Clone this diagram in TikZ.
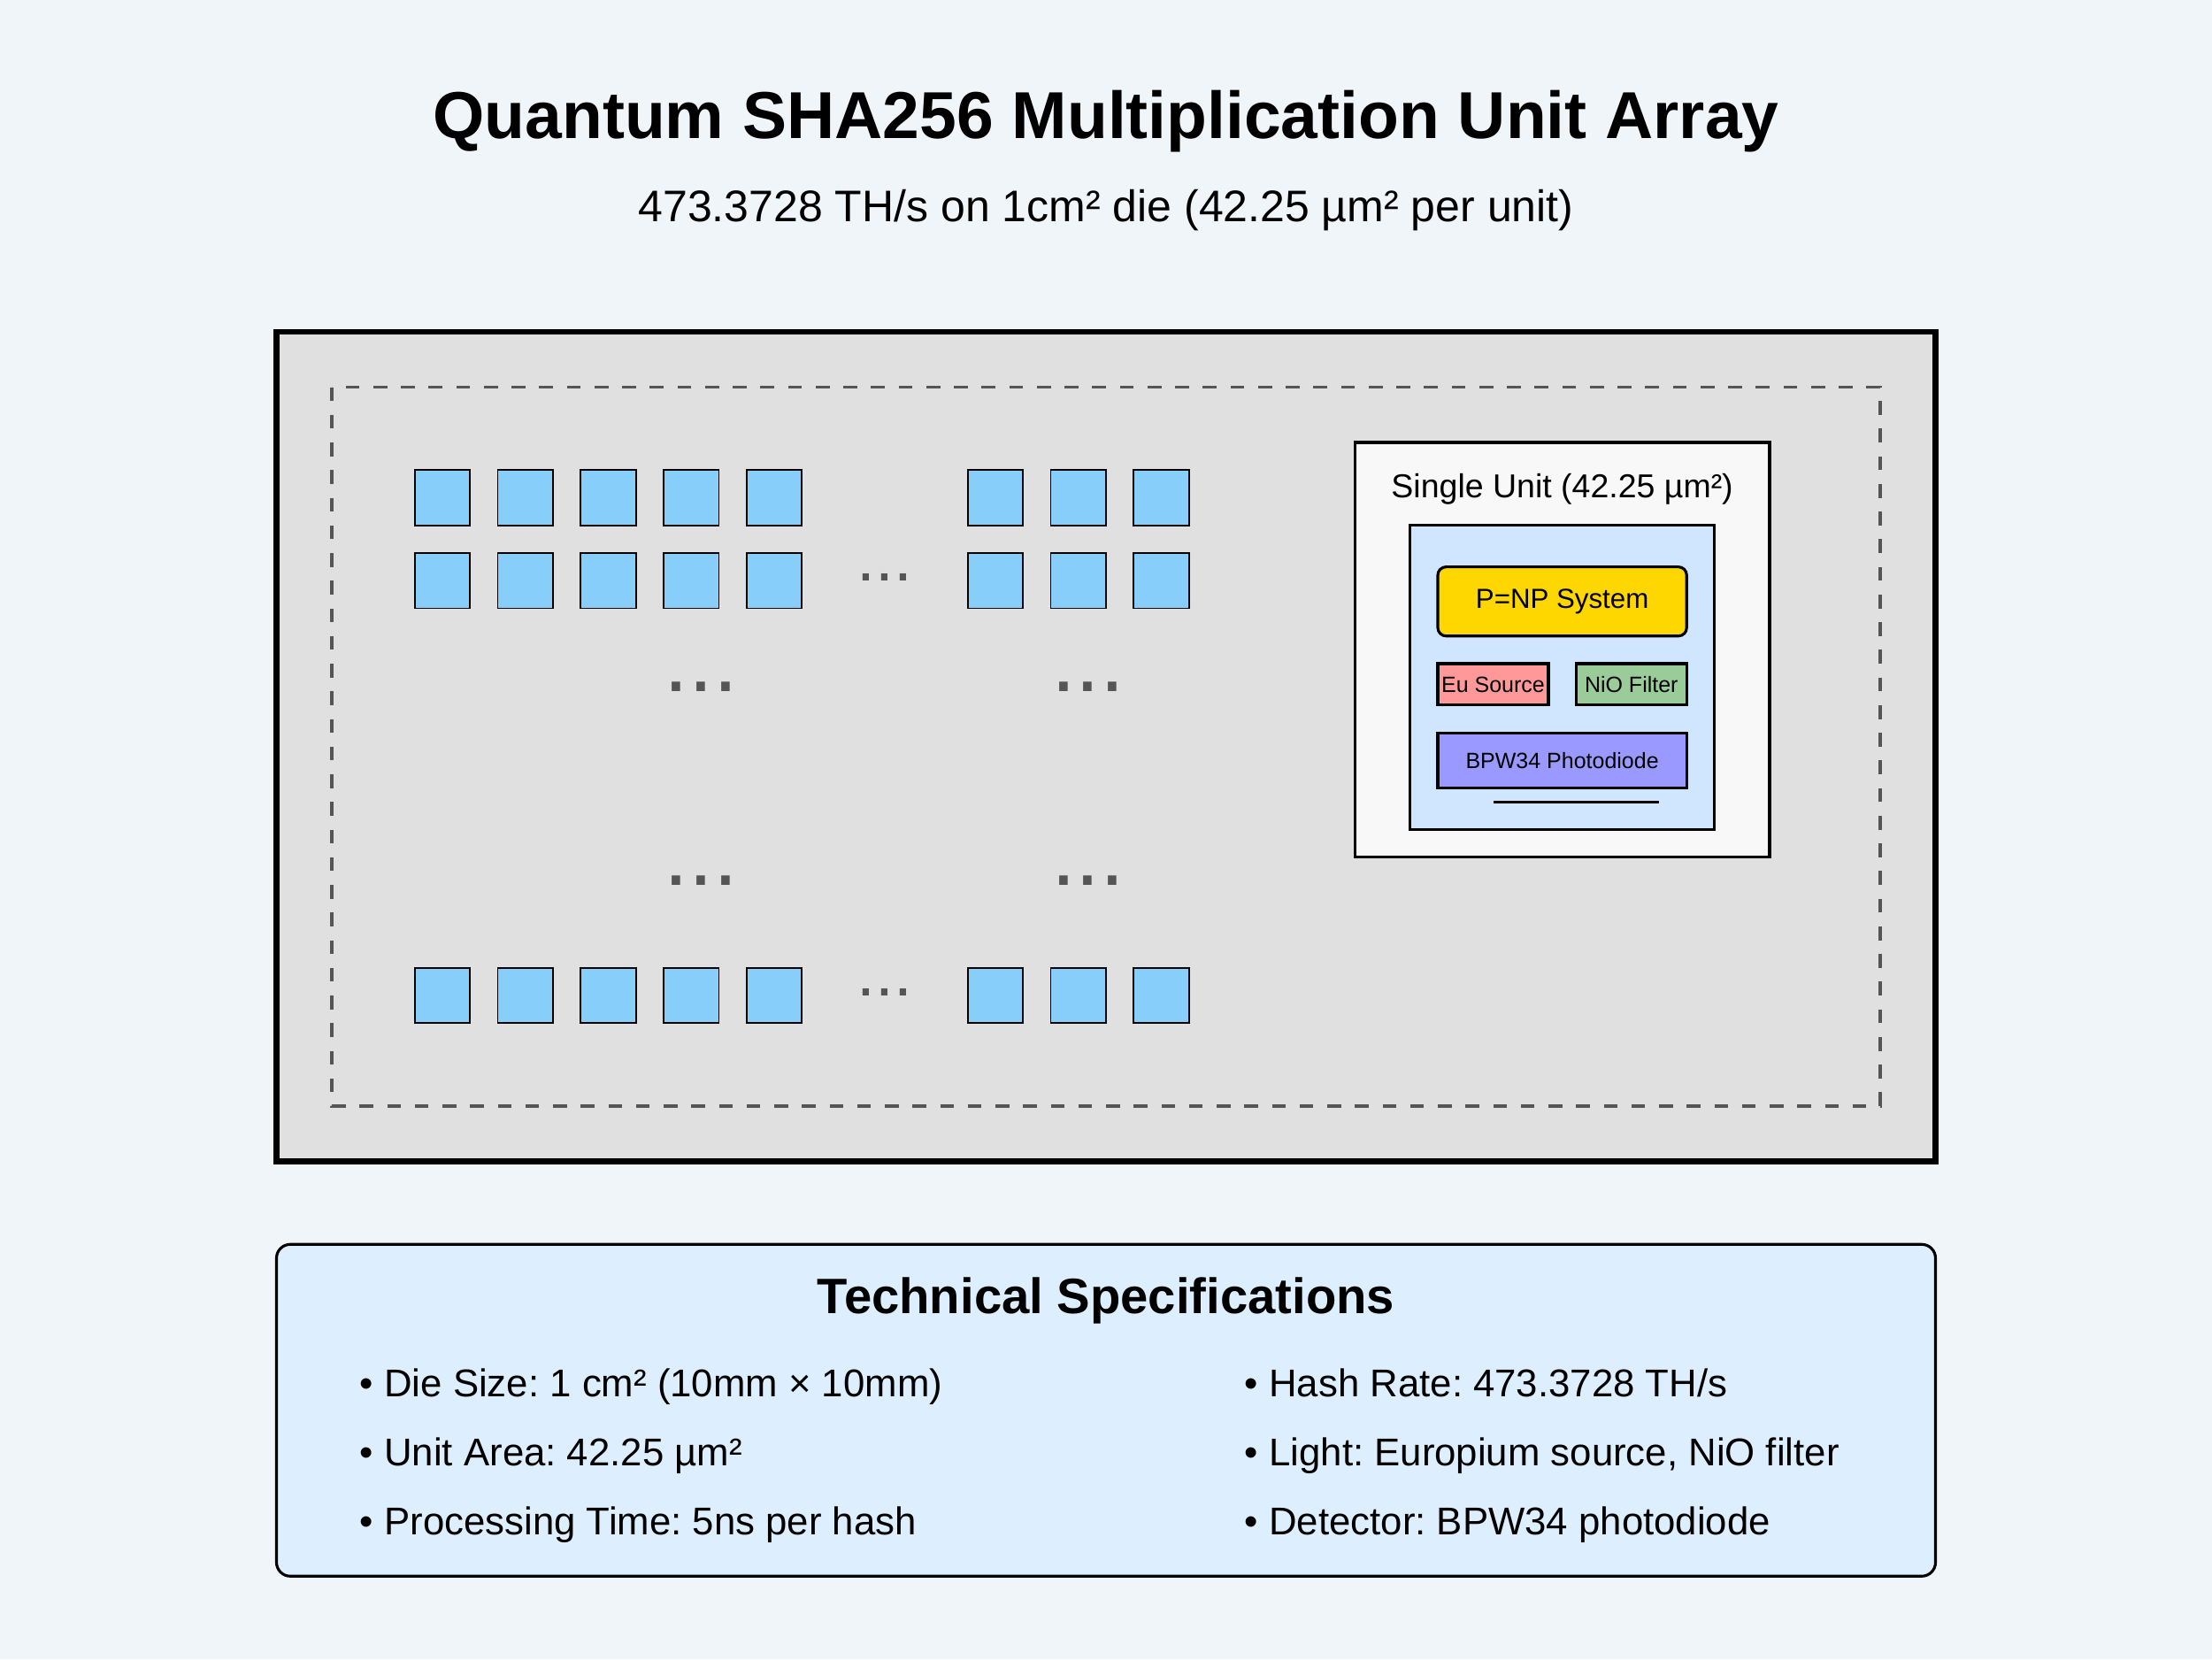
\documentclass[tikz,border=0pt]{standalone}
\usepackage{fontspec}
\setmainfont{Liberation Sans}
\frenchspacing
\definecolor{pagebg}{HTML}{F0F5FA}
\definecolor{diebg}{HTML}{E0E0E0}
\definecolor{cellblue}{HTML}{87CEFA}
\definecolor{unitbg}{HTML}{F8F8F8}
\definecolor{corebg}{HTML}{D0E6FF}
\definecolor{pnpgold}{HTML}{FFD700}
\definecolor{eured}{HTML}{FF9999}
\definecolor{niogreen}{HTML}{99CC99}
\definecolor{pdblue}{HTML}{9999FF}
\definecolor{specbg}{HTML}{DDEEFF}
\definecolor{dotgrey}{HTML}{555555}
\newcommand{\fs}[1]{\fontsize{#1}{#1}\selectfont}
\begin{document}
\begin{tikzpicture}[x=1pt,y=-1pt,
    cell/.style={draw=black,line width=0.5pt,fill=cellblue},
    part/.style={draw=black,line width=1pt,inner sep=0pt},
    rowdots/.style={anchor=base,inner sep=0pt,text=dotgrey,font=\fs{24}},
    coldots/.style={anchor=base,inner sep=0pt,text=dotgrey,font=\fs{32}},
    spec/.style={anchor=base west,inner sep=0pt,font=\fs{14}}]
        %% Page
        \fill[pagebg] (0,0) rectangle (800,600);
        \node[anchor=base,inner sep=0pt,font=\fs{24}\bfseries] (title) at (400,50) {Quantum SHA256 Multiplication Unit Array};
        \node[anchor=base,inner sep=0pt,font=\fs{16}] (sub) at (400,80) {473.3728 TH/s on 1cm² die (42.25 µm² per unit)};
        %% Die
        \draw[line width=2pt,fill=diebg] (100,120) rectangle (700,420);
        \draw[dotgrey,line width=1pt,dash pattern=on 5pt off 5pt] (120,140) rectangle (680,400);
        %% Unit array
        \foreach \y in {170,200,350}{
            \foreach \x in {150,180,...,270}
                \draw[cell] (\x,\y) rectangle ++(20,20);
            \foreach \x in {350,380,410}
                \draw[cell] (\x,\y) rectangle ++(20,20);
        }
        \node[rowdots] (dr1) at (320,210) {...};
        \node[rowdots] (dr2) at (320,360) {...};
        \node[coldots] (dc1) at (253.5,250) {...};
        \node[coldots] (dc2) at (393.5,250) {...};
        \node[coldots] (dc3) at (253.5,320) {...};
        \node[coldots] (dc4) at (393.5,320) {...};
        %% Single unit detail
        \draw[line width=1pt,fill=unitbg] (490,160) rectangle (640,310);
        \node[anchor=base,inner sep=0pt,font=\fs{12}] (unit) at (565,180) {Single Unit (42.25 µm²)};
        \draw[line width=1pt,fill=corebg] (510,190) rectangle (620,300);
        \node[part,fill=pnpgold,rounded corners=3pt,minimum width=90pt,minimum height=25pt,font=\fs{10}] (pnp) at (565,217.5) {P=NP System};
        \node[part,fill=eured,minimum width=40pt,minimum height=15pt,font=\fs{8}] (eu) at (540,247.5) {Eu Source};
        \node[part,fill=niogreen,minimum width=40pt,minimum height=15pt,font=\fs{8}] (nio) at (590,247.5) {NiO Filter};
        \node[part,fill=pdblue,minimum width=90pt,minimum height=20pt,font=\fs{8}] (pd) at (565,275) {BPW34 Photodiode};
        \draw[line width=1pt] (540,290) -- (600,290);
        %% Specifications
        \draw[line width=1pt,fill=specbg,rounded corners=5pt] (100,450) rectangle (700,570);
        \node[anchor=base,inner sep=0pt,font=\fs{18}\bfseries] (spectitle) at (400,475) {Technical Specifications};
        \node[spec] (s1) at (130,505) {• Die Size: 1 cm² (10mm × 10mm)};
        \node[spec] (s2) at (130,530) {• Unit Area: 42.25 µm²};
        \node[spec] (s3) at (130,555) {• Processing Time: 5ns per hash};
        \node[spec] (s4) at (450,505) {• Hash Rate: 473.3728 TH/s};
        \node[spec] (s5) at (450,530) {• Light: Europium source, NiO filter};
        \node[spec] (s6) at (450,555) {• Detector: BPW34 photodiode};
    \end{tikzpicture}
\end{document}
